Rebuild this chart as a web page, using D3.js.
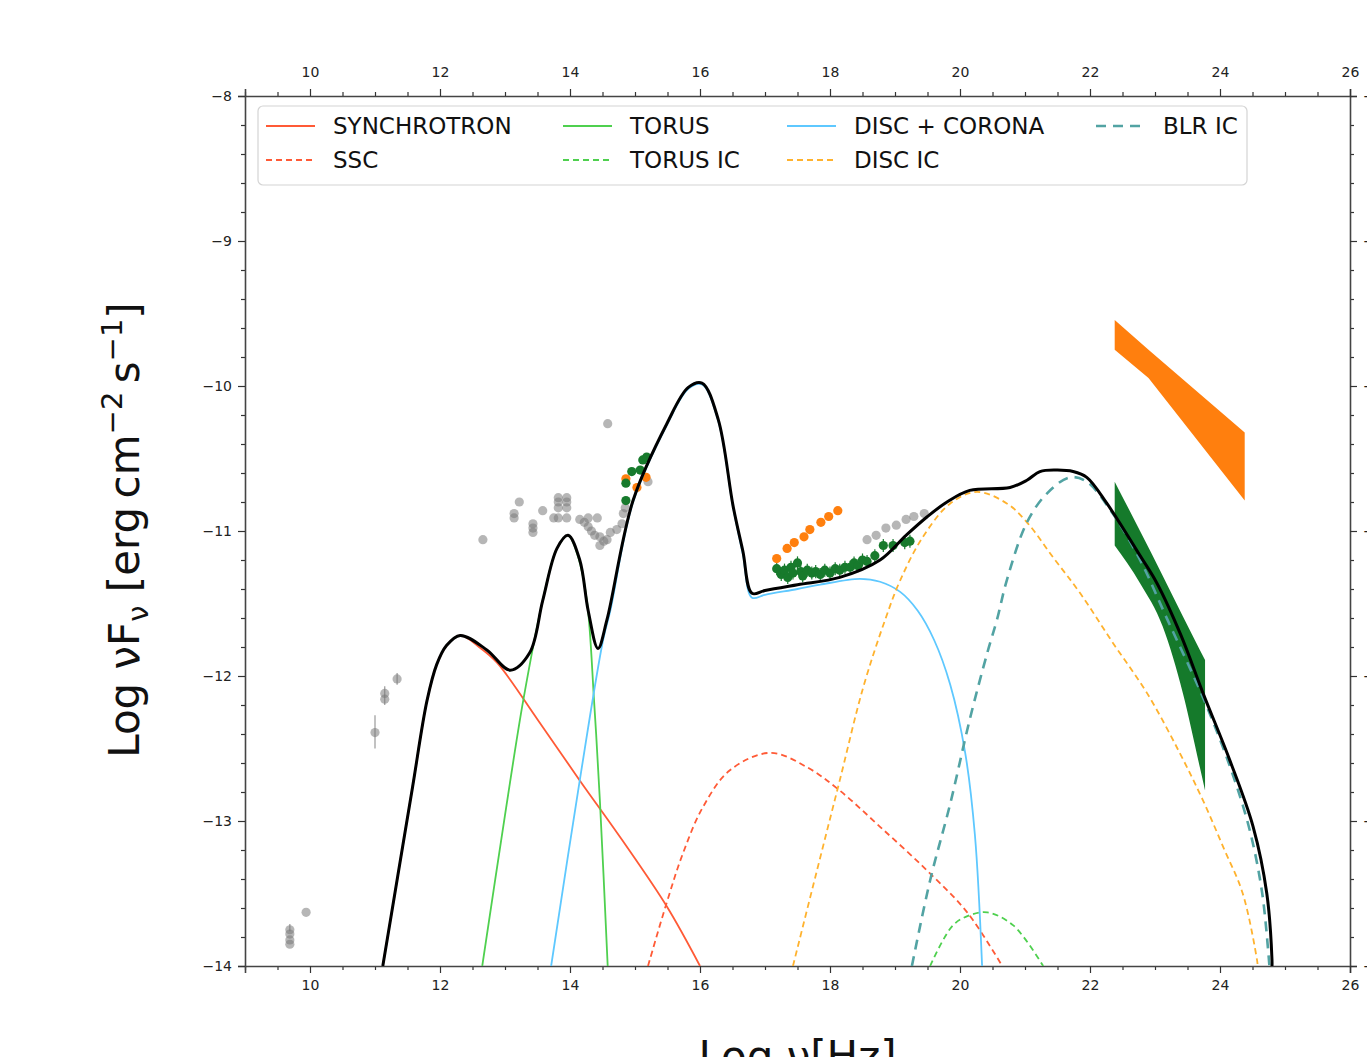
<!DOCTYPE html>
<html>
<head>
<meta charset="utf-8">
<script src="https://cdn.jsdelivr.net/npm/d3@7"></script>
<style>
  body { margin: 0; background: #fff; }
  text { font-family: "DejaVu Sans", sans-serif; }
</style>
</head>
<body>
<svg id="chart" width="1367" height="1057"></svg>
<script>
// model components, [log nu, log nuFnu]
const totalSED = [[11.12,-14],[11.35,-13.38],[11.58,-12.76],[11.8,-12.17],[11.95,-11.92],[12.1,-11.79],[12.31,-11.72],[12.72,-11.82],[13.08,-11.96],[13.38,-11.84],[13.58,-11.48],[13.8,-11.12],[13.97,-11.03],[14.15,-11.2],[14.28,-11.55],[14.43,-11.81],[14.57,-11.61],[14.97,-10.79],[15.49,-10.26],[15.82,-10.01],[16.03,-9.98],[16.28,-10.23],[16.51,-10.83],[16.66,-11.14],[16.8,-11.43],[17.0,-11.41],[17.5,-11.37],[18.15,-11.32],[18.77,-11.2],[19.17,-11.03],[19.5,-10.9],[19.8,-10.8],[20.15,-10.72],[20.77,-10.7],[21.03,-10.65],[21.23,-10.59],[21.5,-10.58],[21.74,-10.59],[21.95,-10.63],[22.26,-10.81],[22.77,-11.17],[23.03,-11.36],[23.4,-11.72],[23.74,-12.12],[24.15,-12.58],[24.51,-13.04],[24.72,-13.5],[24.8,-13.96],[24.8,-14]];
const synchrotron = [[11.12,-14],[11.35,-13.38],[11.58,-12.76],[11.8,-12.17],[11.95,-11.92],[12.1,-11.79],[12.31,-11.72],[12.6,-11.8],[12.88,-11.91],[13.5,-12.3],[14.15,-12.72],[14.8,-13.13],[15.49,-13.59],[16.0,-14]];
const torus = [[12.65,-14],[13.0,-12.96],[13.28,-12.17],[13.58,-11.48],[13.8,-11.12],[13.97,-11.03],[14.12,-11.17],[14.26,-11.48],[14.37,-12.17],[14.46,-12.86],[14.58,-14]];
const discCorona = [[13.71,-14],[14.15,-12.72],[14.51,-11.75],[14.62,-11.55],[14.97,-10.8],[15.49,-10.27],[15.82,-10.02],[16.03,-9.99],[16.28,-10.24],[16.51,-10.84],[16.66,-11.16],[16.8,-11.46],[17.0,-11.44],[17.5,-11.4],[17.85,-11.37],[18.46,-11.33],[18.77,-11.35],[19.08,-11.42],[19.35,-11.55],[19.6,-11.75],[19.85,-12.06],[20.08,-12.53],[20.23,-13.1],[20.34,-14]];
const ssc = [[15.2,-14],[15.49,-13.56],[15.74,-13.22],[16.05,-12.9],[16.46,-12.65],[17.08,-12.53],[17.65,-12.63],[18.15,-12.79],[18.77,-13.04],[19.49,-13.34],[20.11,-13.63],[20.65,-14]];
const torusIC = [[19.54,-14],[19.89,-13.72],[20.15,-13.65],[20.42,-13.63],[20.82,-13.72],[21.28,-14]];
const discIC = [[17.43,-14],[17.8,-13.34],[18.15,-12.72],[18.51,-12.08],[18.85,-11.61],[19.08,-11.34],[19.43,-11.04],[19.85,-10.81],[20.26,-10.73],[20.72,-10.81],[21.03,-10.94],[21.43,-11.18],[21.85,-11.43],[22.35,-11.77],[22.88,-12.12],[23.38,-12.53],[23.74,-12.86],[24.05,-13.18],[24.35,-13.5],[24.57,-13.96],[24.58,-14]];
const blrIC = [[19.26,-14],[19.54,-13.41],[19.85,-12.88],[20.15,-12.3],[20.42,-11.84],[20.57,-11.61],[20.72,-11.34],[21.03,-10.94],[21.34,-10.74],[21.69,-10.63],[21.95,-10.66],[22.35,-10.88],[22.77,-11.2],[23.2,-11.62],[23.74,-12.15],[24.15,-12.62],[24.45,-13.05],[24.65,-13.5],[24.76,-14]];

// gamma-ray butterflies: [log nu, upper, lower]
const orangeBowtie = [[22.38,-9.545,-9.75],[22.9,-9.75,-9.945],[24.38,-10.32,-10.79]];
const greenBowtie = [[22.38,-10.66,-11.1],[22.77,-11.0,-11.36],[23.12,-11.31,-11.66],[23.43,-11.59,-12.12],[23.69,-11.82,-12.63],[23.77,-11.89,-12.79]];

// observed points
const grayPoints = [[9.69,-13.75],[9.69,-13.78],[9.69,-13.82],[9.69,-13.85],[9.94,-13.63],[11.0,-12.39],[11.15,-12.12],[11.15,-12.16],[11.34,-12.02],[12.66,-11.06],[13.14,-10.88],[13.14,-10.91],[13.22,-10.8],[13.43,-10.95],[13.43,-10.98],[13.43,-11.01],[13.58,-10.86],[13.75,-10.91],[13.82,-10.77],[13.82,-10.8],[13.82,-10.84],[13.82,-10.91],[13.95,-10.77],[13.95,-10.8],[13.95,-10.84],[13.95,-10.91],[14.15,-10.92],[14.22,-10.94],[14.28,-10.91],[14.42,-10.91],[14.28,-10.97],[14.33,-11.0],[14.38,-11.03],[14.46,-11.04],[14.46,-11.1],[14.52,-11.07],[14.57,-11.06],[14.62,-11.01],[14.72,-10.99],[14.8,-10.95],[14.82,-10.88],[14.85,-10.84],[14.58,-10.26],[15.2,-10.66],[18.57,-11.06],[18.71,-11.03],[18.86,-10.98],[19.02,-10.96],[19.17,-10.92],[19.29,-10.9],[19.45,-10.88]];
const grayErrors = [[9.69,-13.71,-13.76],[11.0,-12.27,-12.5],[11.15,-12.07,-12.2],[11.34,-11.98,-12.06]];
const orangePoints = [[14.86,-10.64],[15.03,-10.7],[15.17,-10.63],[17.18,-11.19],[17.34,-11.12],[17.45,-11.08],[17.6,-11.04],[17.69,-10.99],[17.86,-10.94],[17.98,-10.9],[18.12,-10.86]];
const greenPoints = [[14.86,-10.79],[14.86,-10.67],[14.95,-10.59],[15.08,-10.58],[15.12,-10.51],[15.18,-10.49],[17.18,-11.26],[17.25,-11.3],[17.3,-11.27],[17.35,-11.32],[17.4,-11.25],[17.43,-11.29],[17.5,-11.22],[17.55,-11.28],[17.58,-11.31],[17.65,-11.27],[17.72,-11.29],[17.78,-11.28],[17.85,-11.3],[17.92,-11.27],[18.0,-11.29],[18.08,-11.26],[18.15,-11.27],[18.23,-11.25],[18.31,-11.25],[18.37,-11.22],[18.43,-11.24],[18.5,-11.2],[18.57,-11.21],[18.69,-11.17],[18.82,-11.1],[18.97,-11.1],[19.15,-11.08],[19.23,-11.07]];

const xMajor = d3.range(10, 27, 2);
const xMinor = d3.range(9, 26.01, 0.5).filter(v => v % 2 !== 0);
const yMajor = d3.range(-14, -7.9, 1);
const yMinor = d3.range(-14, -7.99, 0.2).map(v => +v.toFixed(1)).filter(v => !Number.isInteger(v));

const legendItems = [
  { label: 'SYNCHROTRON', colour: '#ff5a36', dash: null, width: 1.8 },
  { label: 'SSC', colour: '#ff5a36', dash: '6,4', width: 1.8 },
  { label: 'TORUS', colour: '#4fd04f', dash: null, width: 1.8 },
  { label: 'TORUS IC', colour: '#4fd04f', dash: '6,4', width: 1.8 },
  { label: 'DISC + CORONA', colour: '#5ec8ff', dash: null, width: 1.8 },
  { label: 'DISC IC', colour: '#ffb22e', dash: '6,4', width: 1.8 },
  { label: 'BLR IC', colour: '#52a3a3', dash: '10,7', width: 2.6 }
];

const svg = d3.select('#chart');
const margin = { left: 245, top: 96, right: 17, bottom: 91 };
const width = +svg.attr('width');
const height = +svg.attr('height');
const innerWidth = width - margin.left - margin.right;
const innerHeight = height - margin.top - margin.bottom;

const x = d3.scaleLinear().domain([9, 26]).range([margin.left, margin.left + innerWidth]);
const y = d3.scaleLinear().domain([-14, -8]).range([margin.top + innerHeight, margin.top]);

svg.append('defs').append('clipPath').attr('id', 'plot-clip')
  .append('rect')
    .attr('x', x(9)).attr('y', y(-8))
    .attr('width', x(26) - x(9)).attr('height', y(-14) - y(-8));

// axes: major + minor ticks on all four sides
const fmt = d3.format('d');
const axisStyle = g => {
  g.selectAll('.domain').attr('stroke', '#444').attr('stroke-width', 1.6);
  g.selectAll('.tick line').attr('stroke', '#333').attr('stroke-width', 1.2);
  g.selectAll('.tick text').attr('font-size', 14).attr('fill', '#222')
    .attr('font-family', '"DejaVu Sans", sans-serif');
};
const addAxis = (axisFn, scale, major, minor, transform, pad) => {
  svg.append('g').attr('transform', transform)
    .call(axisFn(scale).tickValues(minor).tickSize(4).tickFormat(''))
    .call(g => g.select('.domain').remove())
    .call(axisStyle);
  svg.append('g').attr('transform', transform)
    .call(axisFn(scale).tickValues(major).tickSize(7).tickPadding(pad).tickFormat(fmt))
    .call(axisStyle);
};
addAxis(d3.axisBottom, x, xMajor, xMinor, `translate(0,${y(-14)})`, 7);
addAxis(d3.axisTop, x, xMajor, xMinor, `translate(0,${y(-8)})`, 12);
addAxis(d3.axisLeft, y, yMajor, yMinor, `translate(${x(9)},0)`, 6);
addAxis(d3.axisRight, y, yMajor, yMinor, `translate(${x(26)},0)`, 6);

const plot = svg.append('g').attr('clip-path', 'url(#plot-clip)');

// data points
const dotRadius = 4.6;
plot.append('g').selectAll('line').data(grayErrors).join('line')
  .attr('x1', d => x(d[0])).attr('x2', d => x(d[0]))
  .attr('y1', d => y(d[1])).attr('y2', d => y(d[2]))
  .attr('stroke', '#999').attr('stroke-width', 1.2);
plot.append('g').selectAll('circle').data(grayPoints).join('circle')
  .attr('cx', d => x(d[0])).attr('cy', d => y(d[1])).attr('r', dotRadius)
  .attr('fill', '#7a7a7a').attr('fill-opacity', 0.55);

plot.append('g').selectAll('line').data(greenPoints.slice(6)).join('line')
  .attr('x1', d => x(d[0])).attr('x2', d => x(d[0]))
  .attr('y1', d => y(d[1] + 0.045)).attr('y2', d => y(d[1] - 0.045))
  .attr('stroke', '#177a2c').attr('stroke-width', 1.2);
plot.append('g').selectAll('circle').data(orangePoints).join('circle')
  .attr('cx', d => x(d[0])).attr('cy', d => y(d[1])).attr('r', dotRadius)
  .attr('fill', '#ff7f0e');
plot.append('g').selectAll('circle').data(greenPoints).join('circle')
  .attr('cx', d => x(d[0])).attr('cy', d => y(d[1])).attr('r', dotRadius)
  .attr('fill', '#177a2c');

// bowties
const band = d3.area().x(d => x(d[0])).y0(d => y(d[2])).y1(d => y(d[1]));
plot.append('path').attr('d', band(orangeBowtie)).attr('fill', '#ff7f0e');
plot.append('path').attr('d', band.curve(d3.curveMonotoneX)(greenBowtie)).attr('fill', '#157a2b');

// model curves
const line = d3.line().x(d => x(d[0])).y(d => y(d[1])).curve(d3.curveCatmullRom.alpha(0.5));
const curves = [
  { data: synchrotron, style: legendItems[0] },
  { data: ssc, style: legendItems[1] },
  { data: torus, style: legendItems[2] },
  { data: torusIC, style: legendItems[3] },
  { data: discCorona, style: legendItems[4] },
  { data: discIC, style: legendItems[5] },
  { data: blrIC, style: legendItems[6] }
];
plot.append('g').selectAll('path').data(curves).join('path')
  .attr('d', d => line(d.data))
  .attr('fill', 'none')
  .attr('stroke', d => d.style.colour)
  .attr('stroke-width', d => d.style.width)
  .attr('stroke-dasharray', d => d.style.dash);

plot.append('path').attr('d', line(totalSED))
  .attr('fill', 'none').attr('stroke', '#000').attr('stroke-width', 3)
  .attr('stroke-linejoin', 'round');

// legend
const legend = svg.append('g');
legend.append('rect')
  .attr('x', 258).attr('y', 106).attr('width', 989).attr('height', 79).attr('rx', 5)
  .attr('fill', '#fff').attr('fill-opacity', 0.8)
  .attr('stroke', '#d4d4d4').attr('stroke-width', 1.2);
const colX = [266, 563, 787, 1096];
const rowY = [126, 160];
const entries = legend.selectAll('g.entry').data(legendItems).join('g')
  .attr('class', 'entry')
  .attr('transform', (d, i) => `translate(${colX[Math.floor(i / 2)]},${rowY[i % 2]})`);
entries.append('line')
  .attr('x1', 0).attr('x2', 49)
  .attr('stroke', d => d.colour).attr('stroke-width', d => d.width)
  .attr('stroke-dasharray', d => d.dash);
entries.append('text')
  .attr('x', 67).attr('dy', '0.36em')
  .attr('font-size', 23).attr('fill', '#111')
  .text(d => d.label);

// axis titles
svg.append('text')
  .attr('x', x(9) + (x(26) - x(9)) / 2).attr('y', 1071)
  .attr('text-anchor', 'middle').attr('font-size', 42).attr('fill', '#111')
  .text('Log \u03bd[Hz]');

const yTitle = svg.append('text')
  .attr('transform', 'translate(139,530) rotate(-90)')
  .attr('text-anchor', 'middle').attr('font-size', 42).attr('fill', '#111');
yTitle.append('tspan').text('Log \u03bdF');
yTitle.append('tspan').attr('font-size', 29).attr('dy', 9).text('\u03bd');
yTitle.append('tspan').attr('dy', -9).text(' [erg\u2009cm');
yTitle.append('tspan').attr('font-size', 29).attr('dy', -17).text('\u22122');
yTitle.append('tspan').attr('dy', 17).text('\u2009s');
yTitle.append('tspan').attr('font-size', 29).attr('dy', -17).text('\u22121');
yTitle.append('tspan').attr('dy', 17).text(']');
</script>
</body>
</html>
